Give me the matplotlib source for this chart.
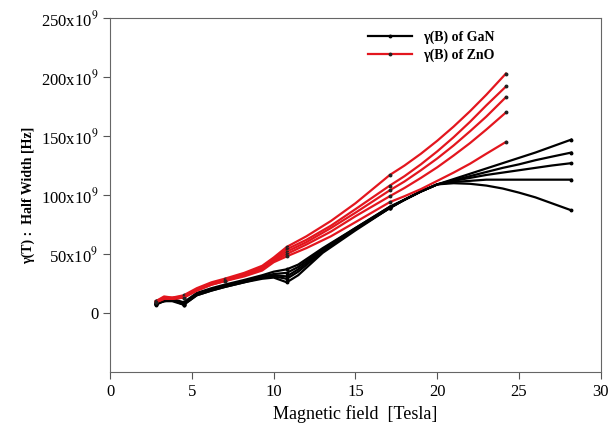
import numpy as np
import matplotlib.pyplot as plt

plt.rcParams["font.family"] = ["Liberation Serif", "DejaVu Serif"]
plt.rcParams["mathtext.fontset"] = "stix"

# ── DATA (values in units of 1e9 Hz) ─────────────────────────────────────────
x_gan = [2.8, 3.3, 3.8, 4.5, 5.3, 6.2, 7.0, 8.2, 9.3, 10.0, 10.8, 11.5, 13.0, 15.0,
         17.1, 18.0, 19.0, 20.0, 21.0, 22.0, 23.0, 24.0, 25.0, 26.0, 27.0, 28.2]
gan_1 = [8, 11, 12, 9, 17, 21, 24, 28, 32, 35, 37, 41, 55, 72,
         90, 96, 103, 109, 113.5, 118, 122.5, 127, 131.5, 136, 141, 147]
gan_2 = [8, 11, 11, 8, 16, 20, 23, 27, 31, 33, 34, 39, 54, 72,
         90, 96, 103, 109, 112.5, 116, 119.5, 123, 126, 129.5, 132.5, 136]
gan_3 = [8, 10, 11, 8, 16, 20, 23, 27, 30, 32, 31, 37, 53, 71,
         89, 96, 103, 109, 112, 114.5, 117, 119, 121, 123, 125, 127]
gan_4 = [8, 10, 11, 7, 15, 19, 22, 26, 30, 31, 29, 35, 52, 71,
         89, 96, 103, 109, 111, 112, 113, 113, 113, 113, 113, 113]
gan_5 = [7, 10, 10, 7, 15, 19, 22, 26, 29, 30, 26, 32, 51, 70,
         89, 96, 103, 109, 110, 109.5, 108, 105.5, 102, 98, 93, 87]

x_zno = [2.8, 3.3, 3.8, 4.5, 5.3, 6.2, 7.0, 8.2, 9.3, 10.0, 10.8, 12.0, 13.5, 15.0,
         17.1, 18.0, 19.0, 20.0, 21.0, 22.0, 23.0, 24.2]
zno_1 = [10, 14, 13, 15, 21, 26, 29, 34, 40, 47, 56, 65, 78, 93,
         117, 125, 135, 146, 158, 171, 185, 203]
zno_2 = [10, 13, 13, 14, 20, 25, 28, 33, 39, 46, 54, 62, 74, 88,
         108, 116, 126, 137, 149, 162, 176, 192]
zno_3 = [9, 13, 12, 14, 20, 25, 28, 33, 38, 45, 52, 60, 72, 85,
         104, 111.5, 121, 131, 142, 154, 166.5, 183]
zno_4 = [9, 12, 12, 13, 19, 24, 27, 32, 37, 44, 50, 58, 69, 82,
         99, 106, 114.5, 123.5, 133.5, 144, 155.5, 170]
zno_5 = [9, 12, 12, 13, 19, 24, 27, 31, 36, 43, 48, 55, 65, 77,
         94, 99, 105, 112, 119, 126.5, 135, 145]

yticks = [0, 50, 100, 150, 200, 250]
ytick_labels = ["0"] + [f"{v}x10$^{{9}}$" for v in yticks[1:]]

# indices where the original shows small dots on the curves
gan_marks = [0, 3, 10, 14, 25]
zno_marks = [0, 3, 6, 10, 14, 21]

# ── PLOT ─────────────────────────────────────────────────────────────────────
fig = plt.figure(figsize=(6.15, 4.3), dpi=100)
ax = fig.add_axes([0.179, 0.135, 0.798, 0.823])

for i, g in enumerate([gan_1, gan_2, gan_3, gan_4, gan_5]):
    ax.plot(x_gan, np.array(g) * 1e9, color="black", linewidth=1.6,
            marker="o", markersize=1.8, markevery=gan_marks,
            label="γ(B) of GaN" if i == 0 else None)
for i, z in enumerate([zno_1, zno_2, zno_3, zno_4, zno_5]):
    ax.plot(x_zno, np.array(z) * 1e9, color="#e3161e", linewidth=1.6,
            marker="o", markersize=1.8, markevery=zno_marks,
            markerfacecolor="#222222", markeredgecolor="#222222",
            label="γ(B) of ZnO" if i == 0 else None)

ax.set_xlim(0, 30)
ax.set_ylim(-50e9, 250e9)
ax.set_xticks(range(0, 31, 5))
ax.set_yticks([v * 1e9 for v in yticks])
ax.set_yticklabels(ytick_labels)
ax.tick_params(direction="out", labelsize=12, length=5, color="#555555")
for s in ax.spines.values():
    s.set_color("#666666")

ax.set_xlabel("Magnetic field  [Tesla]", fontsize=13)
ax.set_ylabel("γ(T) :  Half Width [Hz]", fontsize=10, fontweight="bold")

leg = ax.legend(loc="upper left", bbox_to_anchor=(0.5, 1.0), frameon=False,
                prop={"weight": "bold", "size": 10}, handlelength=3.2,
                labelspacing=0.3)

plt.savefig("out.png", dpi=100)
